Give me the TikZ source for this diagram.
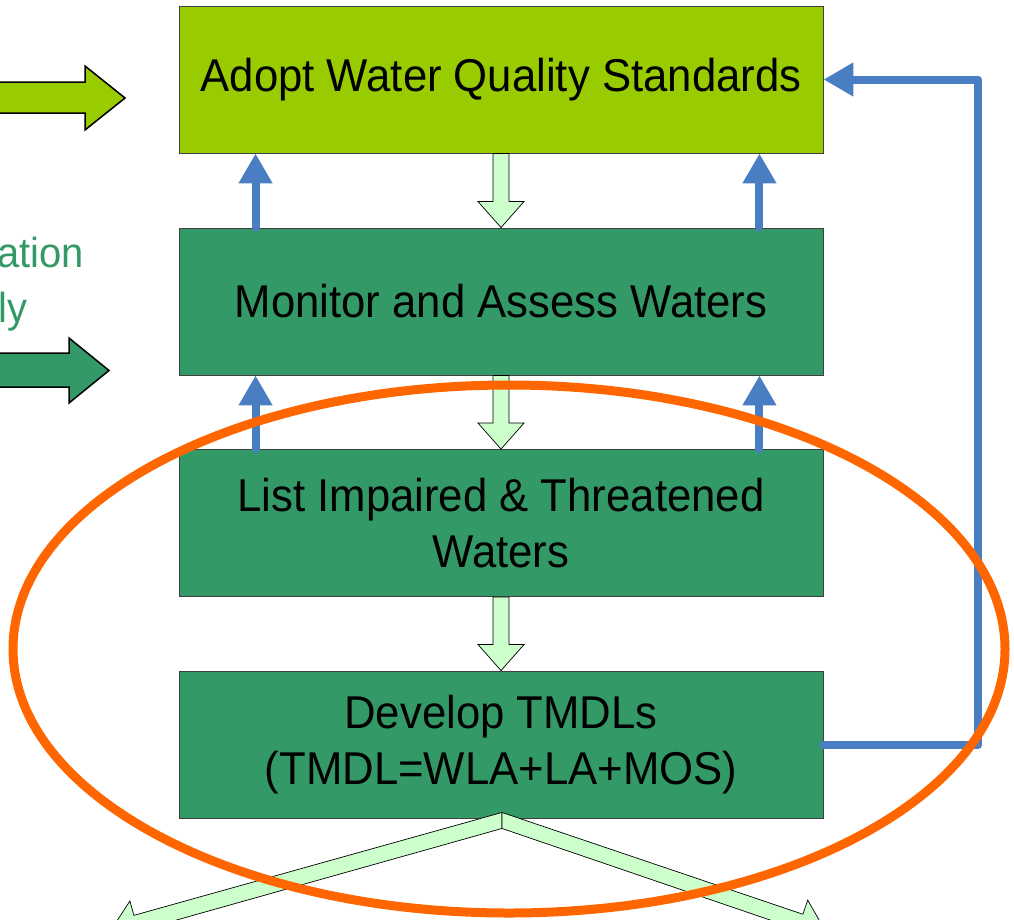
\documentclass[tikz,border=0pt]{standalone}
\usepackage{fontspec}
\setmainfont{Liberation Sans}[FakeStretch=0.95]
\usetikzlibrary{arrows.meta,calc}
\definecolor{lime}{HTML}{99CC00}
\definecolor{sea}{HTML}{339966}
\definecolor{pale}{HTML}{CCFFCC}
\definecolor{fb}{HTML}{4A7EC2}
\definecolor{orng}{HTML}{FF6600}
\tikzset{
  stagebox/.style={draw=black!75, line width=0.9pt, minimum width=644pt, minimum height=147pt,
    inner sep=0pt, align=center, text=black, font=\fontsize{46}{56}\selectfont},
  palearrow/.style={fill=pale, draw=black, line width=0.7pt, line join=miter},
  bigarrow/.style={draw=black, line width=1.5pt, line join=miter},
  fbarrow/.style={draw=fb, line width=8pt, line cap=round, line join=round,
    -{Triangle[length=30pt,width=32pt]}},
  cuttext/.style={text=sea, inner sep=0pt, anchor=base east, font=\fontsize{42}{50}\selectfont},
  ring/.style={draw=orng, line width=9pt}
}
\newcommand\blockdown[2]{%
  \filldraw[palearrow] ($(#1.south)+(-8,0)$) -- ($(#2.north)+(-8,-26)$) -- ($(#2.north)+(-23,-26)$)
    -- (#2.north) -- ($(#2.north)+(23,-26)$) -- ($(#2.north)+(8,-26)$) -- ($(#1.south)+(8,0)$) -- cycle;}
\begin{document}
\begin{tikzpicture}[x=1pt,y=-1pt]
\useasboundingbox (0,0) rectangle (1014,919);
\clip (0,0) rectangle (1014,919);

% left incoming arrows and cut-off text
\filldraw[bigarrow, fill=lime] (-10,82) -- (85,82) -- (85,66) -- (125,98) -- (85,130) -- (85,113) -- (-10,113) -- cycle;
\filldraw[bigarrow, fill=sea] (-10,353) -- (69,353) -- (69,338) -- (109,370.5) -- (69,403) -- (69,387) -- (-10,387) -- cycle;
\node[cuttext] (t1) at (84,267) {ation};
\node[cuttext] (t2) at (28,322) {ly};

% stages
\node[stagebox, fill=lime] (adopt) at (501,79.5) {Adopt Water Quality Standards};
\node[stagebox, fill=sea] (monitor) at (501,301.5) {Monitor and Assess Waters};
\node[stagebox, fill=sea] (list) at (501,523) {List Impaired \& Threatened\\Waters};
\node[stagebox, fill=sea] (develop) at (501,744.5) {Develop TMDLs\\(TMDL=WLA+LA+MOS)};

% down block arrows
\blockdown{adopt}{monitor}
\blockdown{monitor}{list}
\blockdown{list}{develop}

% blue up arrows
\draw[fbarrow] ($(monitor.north west)+(77,0)$) -- ($(adopt.south west)+(77,0)$);
\draw[fbarrow] ($(monitor.north east)+(-64,0)$) -- ($(adopt.south east)+(-64,0)$);
\draw[fbarrow] ($(list.north west)+(77,0)$) -- ($(monitor.south west)+(77,0)$);
\draw[fbarrow] ($(list.north east)+(-64,0)$) -- ($(monitor.south east)+(-64,0)$);

% feedback loop
\draw[fbarrow] (develop.east) -- ++(155,0) |- (adopt.east);

% forked arrows below
\begin{scope}[shift={(develop.south)}]
\filldraw[palearrow] (1,-6) -- (-367.1,96.9) -- (-371.1,82.5) -- (-390,111.6) -- (-358.7,126.7) -- (-362.7,112.3) -- (1,10) -- cycle;
\filldraw[palearrow] (1,-6) -- (301.9,95.8) -- (306.7,81.6) -- (323.9,111.8) -- (291.9,125.2) -- (296.7,111) -- (1,10) -- cycle;
\end{scope}

% highlight ring
\draw[ring] (509,649) ellipse [x radius=496pt, y radius=264pt];
\end{tikzpicture}
\end{document}
